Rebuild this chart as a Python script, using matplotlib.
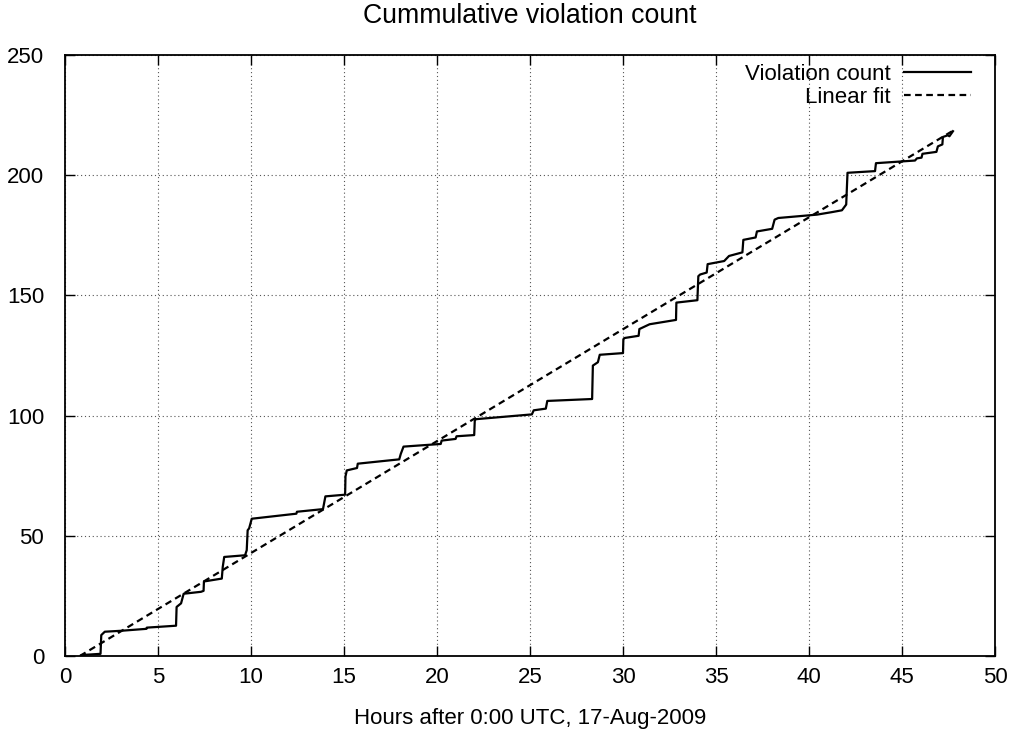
import numpy as np
import matplotlib
matplotlib.use("Agg")
import matplotlib.pyplot as plt

# cumulative violation count, vertices of the drawn path (hours, count)
hours = [0.89, 1.91, 1.95, 2.14, 3.03, 4.38, 4.40, 5.97, 6.00, 6.24,
         6.38, 7.31, 7.45, 7.47, 8.43, 8.48, 8.56, 9.68, 9.77, 9.82,
         9.90, 10.04, 12.44, 12.47, 13.87, 14.00, 15.06, 15.08, 15.15, 15.70,
         15.74, 17.97, 18.05, 18.20, 20.20, 20.25, 21.00, 21.05, 22.00, 22.03,
         22.08, 25.10, 25.20, 25.85, 25.93, 28.34, 28.38, 28.65, 28.75, 30.00,
         30.02, 30.10, 30.84, 30.88, 31.43, 32.85, 32.87, 34.00, 34.05, 34.15,
         34.50, 34.55, 35.44, 35.70, 36.42, 36.47, 37.13, 37.20, 38.02, 38.15,
         38.35, 40.43, 41.20, 41.77, 42.00, 42.07, 43.55, 43.60, 45.70, 45.80,
         46.05, 46.10, 46.85, 46.93, 47.17, 47.20, 47.46, 47.55, 47.74]
counts = [0.4, 0.9, 8.7, 10.1, 10.5, 11.3, 11.8, 12.6, 20.4, 21.9,
          25.9, 26.7, 27.1, 31.0, 32.2, 37.0, 41.2, 41.9, 44.0, 52.3,
          53.1, 57.1, 59.2, 60.0, 61.1, 66.4, 67.1, 74.7, 77.2, 78.2,
          80.0, 81.8, 84.0, 87.1, 88.2, 89.6, 90.3, 91.4, 91.9, 97.8,
          98.5, 100.5, 102.2, 102.9, 106.1, 106.9, 120.8, 122.2, 125.3, 126.0,
          131.8, 132.3, 133.2, 136.0, 138.0, 139.8, 147.0, 148.0, 158.0, 158.7,
          159.5, 163.0, 164.3, 166.4, 167.9, 173.1, 174.1, 176.6, 177.7, 181.5,
          182.2, 183.6, 184.6, 185.4, 187.8, 201.0, 201.7, 205.0, 206.1, 207.0,
          207.3, 208.9, 209.7, 212.0, 212.8, 215.9, 216.6, 216.2, 218.3]

# linear fit
fit_slope = 4.655
fit_intercept = -3.72

xticks = [0, 5, 10, 15, 20, 25, 30, 35, 40, 45, 50]
yticks = [0, 50, 100, 150, 200, 250]

plt.rcParams['font.family'] = ['Liberation Sans', 'DejaVu Sans']
plt.rcParams['font.size'] = 16

fig = plt.figure(figsize=(10.21, 7.33), dpi=100)
ax = fig.add_axes([65 / 1021, 1 - 656 / 733, 930 / 1021, 601 / 733])

ax.plot(hours, counts, color='black', lw=1.6, label='Violation count')
fx = np.array([-fit_intercept / fit_slope, hours[-1]])
ax.plot(fx, fit_slope * fx + fit_intercept, color='black', lw=1.6,
        ls=(0, (3, 2)), label='Linear fit')

ax.set_xlim(0, 50)
ax.set_ylim(0, 250)
ax.set_xticks(xticks)
ax.set_yticks(yticks)
ax.tick_params(direction='in', length=7, width=1, top=True, right=True)
ax.tick_params(axis='x', pad=8)
ax.tick_params(axis='y', pad=15)
ax.grid(True, color='#555555', ls=(0, (1, 2.5)), lw=0.8)
for s in ax.spines.values():
    s.set_linewidth(1.3)

ax.set_title('Cummulative violation count', pad=23)
ax.set_xlabel('Hours after 0:00 UTC, 17-Aug-2009', labelpad=14)

ax.legend(loc='upper right', bbox_to_anchor=(1 - 15 / 930, 1), frameon=False,
          markerfirst=False, handlelength=3.0, handletextpad=0.6,
          labelspacing=0.1, borderaxespad=0.1, borderpad=0.3, fontsize=16)

fig.savefig('out.png', dpi=100)
